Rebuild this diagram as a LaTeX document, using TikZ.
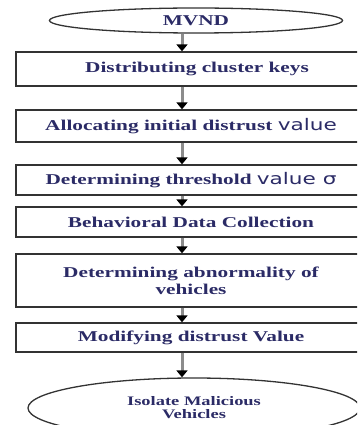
\documentclass[tikz,border=0pt]{standalone}
\usepackage{fontspec}
\setmainfont{Liberation Serif}[FakeStretch=1.42]
\newfontfamily\valfont{DejaVu Sans}[FakeStretch=1.35]
\usetikzlibrary{positioning,shapes.geometric,arrows.meta}
\definecolor{txtblue}{HTML}{2B2B66}

\begin{document}
\begin{tikzpicture}[x=1pt,y=-1pt,
    box/.style={draw=black!80,line width=1.3pt,minimum width=350pt,inner sep=0pt,
                text=txtblue,font=\bfseries\fontsize{15}{17}\selectfont},
    oval/.style={draw=black!80,line width=1.3pt,ellipse,inner sep=0pt,
                text=txtblue,align=center},
    flow/.style={draw=black!45,line width=3pt,
                -{Triangle[length=7pt,width=11pt,color=black,fill=black]}}]
    \useasboundingbox (0,0) rectangle (357,425);
    \begin{scope}
    \clip (0,0) rectangle (357,425);
    \coordinate (axis) at (182,0);
    \node[oval,minimum width=293pt,minimum height=25pt,font=\bfseries\fontsize{15}{16}\selectfont] (mvnd) at (196,20.5) {MVND};
    \node[box,minimum height=34pt] (keys) at (191,69) {\hspace{12pt}Distributing cluster keys};
    \node[box,minimum height=32pt] (init) at (191,126) {Allocating initial distrust {\valfont\mdseries\fontsize{16}{16}\selectfont value}};
    \node[box,minimum height=30pt] (thr) at (191,180) {Determining threshold {\valfont\mdseries\fontsize{16}{16}\selectfont value σ}};
    \node[box,minimum height=30pt] (data) at (191,222) {Behavioral Data Collection};
    \node[box,minimum height=53pt,align=center] (abn) at (191,280.5) {Determining abnormality of\\vehicles};
    \node[box,minimum height=29pt] (mod) at (191,337.5) {Modifying distrust Value};
    \node[oval,minimum width=332pt,minimum height=60pt,font=\bfseries\fontsize{13}{13}\selectfont] (iso) at (194,408) {Isolate Malicious\\Vehicles};
    % arrows down the chain
    \draw[flow] (mvnd.south -| axis) -- (keys.north -| axis);
    \draw[flow] (keys.south -| axis) -- (init.north -| axis);
    \draw[flow] (init.south -| axis) -- (thr.north -| axis);
    \draw[flow] (thr.south -| axis) -- (data.north -| axis);
    \draw[flow] (data.south -| axis) -- (abn.north -| axis);
    \draw[flow] (abn.south -| axis) -- (mod.north -| axis);
    \draw[flow] (mod.south -| axis) -- (iso.north -| axis);
    \end{scope}
\end{tikzpicture}
\end{document}
